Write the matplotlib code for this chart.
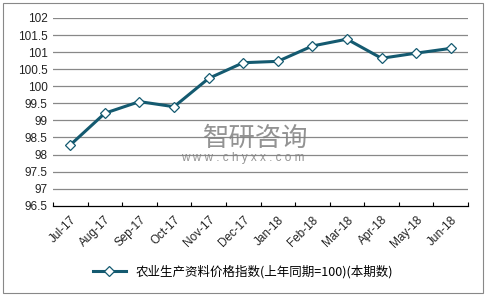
import matplotlib.pyplot as plt
import matplotlib.patches as mpatches

plt.rcParams['font.family'] = ['Liberation Sans', 'Noto Sans CJK SC', 'DejaVu Sans']

months = ['Jul-17', 'Aug-17', 'Sep-17', 'Oct-17', 'Nov-17', 'Dec-17',
          'Jan-18', 'Feb-18', 'Mar-18', 'Apr-18', 'May-18', 'Jun-18']
index_vals = [98.28, 99.21, 99.55, 99.40, 100.23, 100.69,
              100.73, 101.18, 101.38, 100.82, 100.97, 101.11]
y_ticks = [96.5, 97, 97.5, 98, 98.5, 99, 99.5, 100, 100.5, 101, 101.5, 102]
series_name = '农业生产资料价格指数(上年同期=100)(本期数)'

line_color = '#145a70'

fig = plt.figure(figsize=(4.86, 2.96), dpi=100)
ax = fig.add_axes([53 / 486, 1 - 205.7 / 296, 415 / 486, 187.7 / 296])

# outer border
fig.patches.append(mpatches.Rectangle((3 / 486, 3 / 296), 480 / 486, 290 / 296,
                                      transform=fig.transFigure, fill=False,
                                      edgecolor='#888888', linewidth=0.8))

x = list(range(len(months)))
ax.plot(x, index_vals, color=line_color, linewidth=2.2, marker='D', markersize=5.5,
        markerfacecolor='white', markeredgecolor=line_color, markeredgewidth=0.9,
        label=series_name, zorder=3)

ax.set_xlim(-0.5, len(months) - 0.5)
ax.set_ylim(96.5, 102)
ax.set_yticks(y_ticks)
ax.set_yticklabels([('%g' % v) for v in y_ticks], fontsize=8.5, color='#222222')
ax.set_xticks(x)
ax.set_xticklabels(months, rotation=45, ha='right', rotation_mode='anchor',
                   fontsize=8.5, color='#222222')
ax.tick_params(axis='x', length=0, pad=6)
ax.tick_params(axis='y', length=0, pad=4)

# category boundary ticks pointing up
ax.set_xticks([i - 0.5 for i in range(len(months) + 1)], minor=True)
ax.tick_params(axis='x', which='minor', direction='in', length=3, color='black', width=0.8)

for v in y_ticks[1:]:
    ax.axhline(v, color='#888888', linewidth=0.9, zorder=1)

for s in ['top', 'right', 'left']:
    ax.spines[s].set_visible(False)
ax.spines['bottom'].set_color('black')
ax.spines['bottom'].set_linewidth(0.9)

# watermark
fig.text(203 / 486, 1 - 138 / 296, '智研咨询', fontsize=19, color='#808080', alpha=0.85,
         family=['Noto Sans CJK SC'], va='center', ha='left')
fig.text(243 / 486, 1 - 158 / 296, 'w w w . c h y x x . c o m', fontsize=8.5,
         color='#808080', alpha=0.85, va='center', ha='center')

leg = fig.legend(loc='center', bbox_to_anchor=(243 / 486, 1 - 272 / 296), frameon=False,
                 fontsize=9, handlelength=2.6, prop={'family': ['Noto Sans CJK SC', 'DejaVu Sans'], 'size': 9})

fig.savefig('out.png', dpi=100)
